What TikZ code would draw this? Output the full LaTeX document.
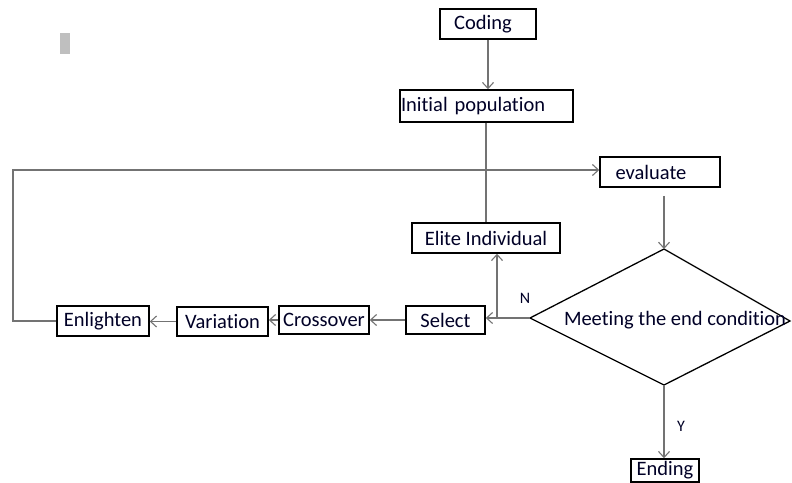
\documentclass[tikz,border=0pt]{standalone}
\usepackage{fontspec}
\setmainfont{Carlito}[Ligatures={NoCommon}]
\usetikzlibrary{arrows.meta}
\begin{document}
\begin{tikzpicture}[x=1pt,y=-1pt,
  every node/.style={font=\fontsize{20.5}{22}\selectfont, text=black!85!blue},
  box/.style={draw=black, line width=1.5pt, inner sep=0pt, minimum height=30pt},
  conn/.style={draw=black!55, line width=1.3pt},
  arr/.style={conn, -{Straight Barb[length=6pt,width=11pt,line width=1.1pt]}},
  lbl/.style={inner sep=0pt, font=\fontsize{16}{17}\selectfont}]
\useasboundingbox (0,0) rectangle (792,482);
\fill[black!25] (60,33) rectangle (70,54);
% boxes
\node[box, minimum width=96pt] (coding) at (488,24) {\hspace*{-10pt}Coding};
\node[box, minimum width=173pt, minimum height=32pt, text width=171pt, align=left] (init) at (486.5,106) {Initial population};
\node[box, minimum width=120pt] (eval) at (660,172) {\hspace*{-18pt}evaluate};
\node[box, minimum width=148pt] (elite) at (486,238) {Elite Individual};
\node[box, minimum width=79pt, minimum height=28pt] (select) at (445.5,320) {Select};
\node[box, minimum width=90pt, minimum height=28pt] (cross) at (324,320) {Crossover};
\node[box, minimum width=91pt, minimum height=29pt] (var) at (222.5,321.5) {Variation};
\node[box, minimum width=92pt] (enl) at (103,321) {Enlighten};
\node[box, minimum width=68pt, minimum height=23pt] (ending) at (665,470.5) {Ending};
% diamond
\coordinate (dt) at (664,249);
\coordinate (dl) at (530,318);
\coordinate (dr) at (790,321);
\coordinate (db) at (664,385);
\draw[line width=1.3pt] (dt) -- (dr) -- (db) -- (dl) -- cycle;
\node[inner sep=0pt] (cond) at (675,320) {Meeting the end condition};
% connectors
\draw[arr] (coding.south) -- (init.north -| coding.south);
\draw[conn] (init.south -| elite.north) -- (elite.north);
\coordinate (fbl) at (13,170);
\draw[arr] (enl.west) -- (fbl |- enl.west) -- (fbl) -- (eval.west |- fbl);
\draw[arr, shorten <=8pt] (eval.south -| dt) -- (dt);
\draw[arr] (db) -- (ending.north -| db);
\node[lbl] (ylab) at (681,426) {Y};
\draw[arr] (dl) -- (select.east |- dl);
\coordinate (br) at (497,318);
\draw[arr] (br) -- (elite.south -| br);
\node[lbl] (nlab) at (525,298) {N};
\draw[arr] (select.west) -- (cross.east);
\draw[arr] (cross.west) -- (var.east |- cross.west);
\draw[arr] (var.west) -- (enl.east |- var.west);
\end{tikzpicture}
\end{document}
